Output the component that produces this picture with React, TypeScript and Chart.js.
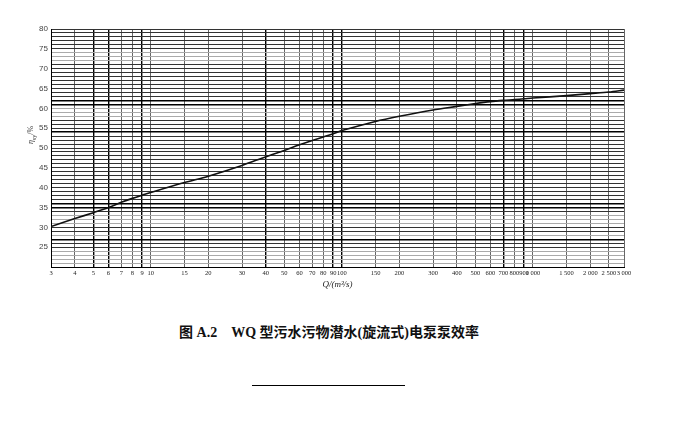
import React, { useEffect, useRef } from "react";
import { Chart, registerables } from "chart.js";

Chart.register(...registerables);

// Flow rate Q (m³/s) – x values of the curve
const flowQ = [3, 4, 5, 6, 7, 8, 9, 10, 15, 20, 30, 40, 50, 60, 70, 80, 90, 100, 150, 200, 300, 400, 500, 600, 700, 800, 900, 1000, 1500, 2000, 2500, 3000];
// Efficiency η (%)
const efficiency = [30.2, 32.2, 33.7, 35.0, 36.3, 37.3, 38.1, 38.8, 41.3, 42.9, 45.6, 47.8, 49.4, 50.8, 51.9, 52.8, 53.6, 54.4, 56.7, 58.0, 59.6, 60.5, 61.2, 61.7, 62.0, 62.2, 62.4, 62.6, 63.2, 63.7, 64.1, 64.6];
// x-axis tick values (log grid)
const xTicks = [3, 4, 5, 6, 7, 8, 9, 10, 15, 20, 30, 40, 50, 60, 70, 80, 90, 100, 150, 200, 300, 400, 500, 600, 700, 800, 900, 1000, 1500, 2000, 2500, 3000];
// y-axis range and label step
const yMin = 20;
const yMax = 80;
const yLabelStep = 5;

// grid styling hints (scan look)
const xDarkLines = [5, 6, 9, 40, 90, 100, 700, 900];
const yDarkLines = [35, 36, 61, 62, 27, 54];
const yGreyLines = [21, 22, 23, 24, 28, 31, 32, 33, 58, 59, 60, 72, 73, 74];

function fmtQ(v: number): string {
  if (v >= 1000) {
    const th = Math.floor(v / 1000);
    const rest = String(v % 1000).padStart(3, "0");
    return th + " " + rest;
  }
  return String(v);
}

function App() {
  const ref = useRef<HTMLCanvasElement | null>(null);

  useEffect(() => {
    if (!ref.current) return;
    const chart = new Chart(ref.current, {
      type: "line",
      data: {
        datasets: [
          {
            data: flowQ.map((q, i) => ({ x: q, y: efficiency[i] })),
            borderColor: "#111",
            borderWidth: 1.6,
            pointRadius: 0,
            tension: 0.3,
            fill: false,
          },
        ],
      },
      options: {
        animation: false,
        responsive: false,
        devicePixelRatio: 1,
        layout: { padding: { left: 0, top: 29, right: 75, bottom: 8 } },
        plugins: { legend: { display: false }, tooltip: { enabled: false } },
        scales: {
          x: {
            type: "logarithmic",
            min: xTicks[0],
            max: xTicks[xTicks.length - 1],
            afterBuildTicks: (axis: any) => {
              axis.ticks = xTicks.map((v) => ({ value: v }));
            },
            afterFit: (axis: any) => {
              axis.height = 25;
            },
            ticks: {
              autoSkip: false,
              maxRotation: 0,
              minRotation: 0,
              padding: 2,
              color: "#222",
              font: { family: "'Liberation Serif', serif", size: 6.5 },
              callback: (value: any) => fmtQ(Number(value)),
            },
            grid: {
              drawTicks: false,
              color: (ctx: any) => (ctx.tick && xDarkLines.includes(ctx.tick.value) ? "#000" : "#666"),
              lineWidth: (ctx: any) => (ctx.tick && xDarkLines.includes(ctx.tick.value) ? 1.4 : 1),
            },
            border: { color: "#000", width: 1 },
            title: {
              display: true,
              text: "Q/(m³/s)",
              color: "#222",
              font: { family: "'Liberation Serif', serif", size: 9, style: "italic" },
              padding: { top: 0, bottom: 2 },
            },
          },
          y: {
            min: yMin,
            max: yMax,
            afterFit: (axis: any) => {
              axis.width = 51;
            },
            ticks: {
              stepSize: 1,
              autoSkip: false,
              padding: 3,
              color: "#444",
              font: { family: "'Liberation Sans', sans-serif", size: 8 },
              callback: (value: any) => {
                const v = Number(value);
                return v % yLabelStep === 0 && v > yMin ? String(v) : "";
              },
            },
            grid: {
              drawTicks: false,
              color: (ctx: any) => {
                const v = ctx.tick ? ctx.tick.value : 0;
                if (yDarkLines.includes(v)) return "#000";
                if (yGreyLines.includes(v)) return "#aaa";
                return "#333";
              },
              lineWidth: (ctx: any) => {
                const v = ctx.tick ? ctx.tick.value : 0;
                return yDarkLines.includes(v) ? 1.4 : 1;
              },
            },
            border: { color: "#000", width: 1 },
          },
        },
      },
    });
    return () => chart.destroy();
  }, []);

  return (
    <div style={{ position: "absolute", left: 0, top: 0, width: 699, height: 443, background: "#fff" }}>
      <canvas ref={ref} width={699} height={300} style={{ position: "absolute", left: 0, top: 0 }} />
      <div
        style={{
          position: "absolute",
          left: 22,
          top: 125,
          width: 20,
          height: 20,
          fontFamily: "'Liberation Serif', serif",
          fontSize: 8,
          color: "#333",
          lineHeight: "10px",
          whiteSpace: "nowrap",
          transform: "rotate(-90deg)",
          transformOrigin: "center center",
          display: "flex",
          alignItems: "center",
          justifyContent: "center",
        }}
      >
        <span>
          <i>η</i>
          <sub style={{ fontSize: 6 }}>sy</sub>/%
        </span>
      </div>
      <div
        style={{
          position: "absolute",
          left: 0,
          width: 658,
          top: 324,
          textAlign: "center",
          fontFamily: "'Liberation Serif', 'Noto Sans CJK SC', serif",
          fontWeight: "bold",
          fontSize: 14,
          lineHeight: "17px",
          color: "#111",
          whiteSpace: "pre",
        }}
      >
        {"图 A.2\u3000WQ 型污水污物潜水(旋流式)电泵泵效率"}
      </div>
      <div
        style={{
          position: "absolute",
          left: 252,
          top: 385,
          width: 153,
          height: 0,
          borderTop: "1px solid #000",
        }}
      />
    </div>
  );
}

export default App;
